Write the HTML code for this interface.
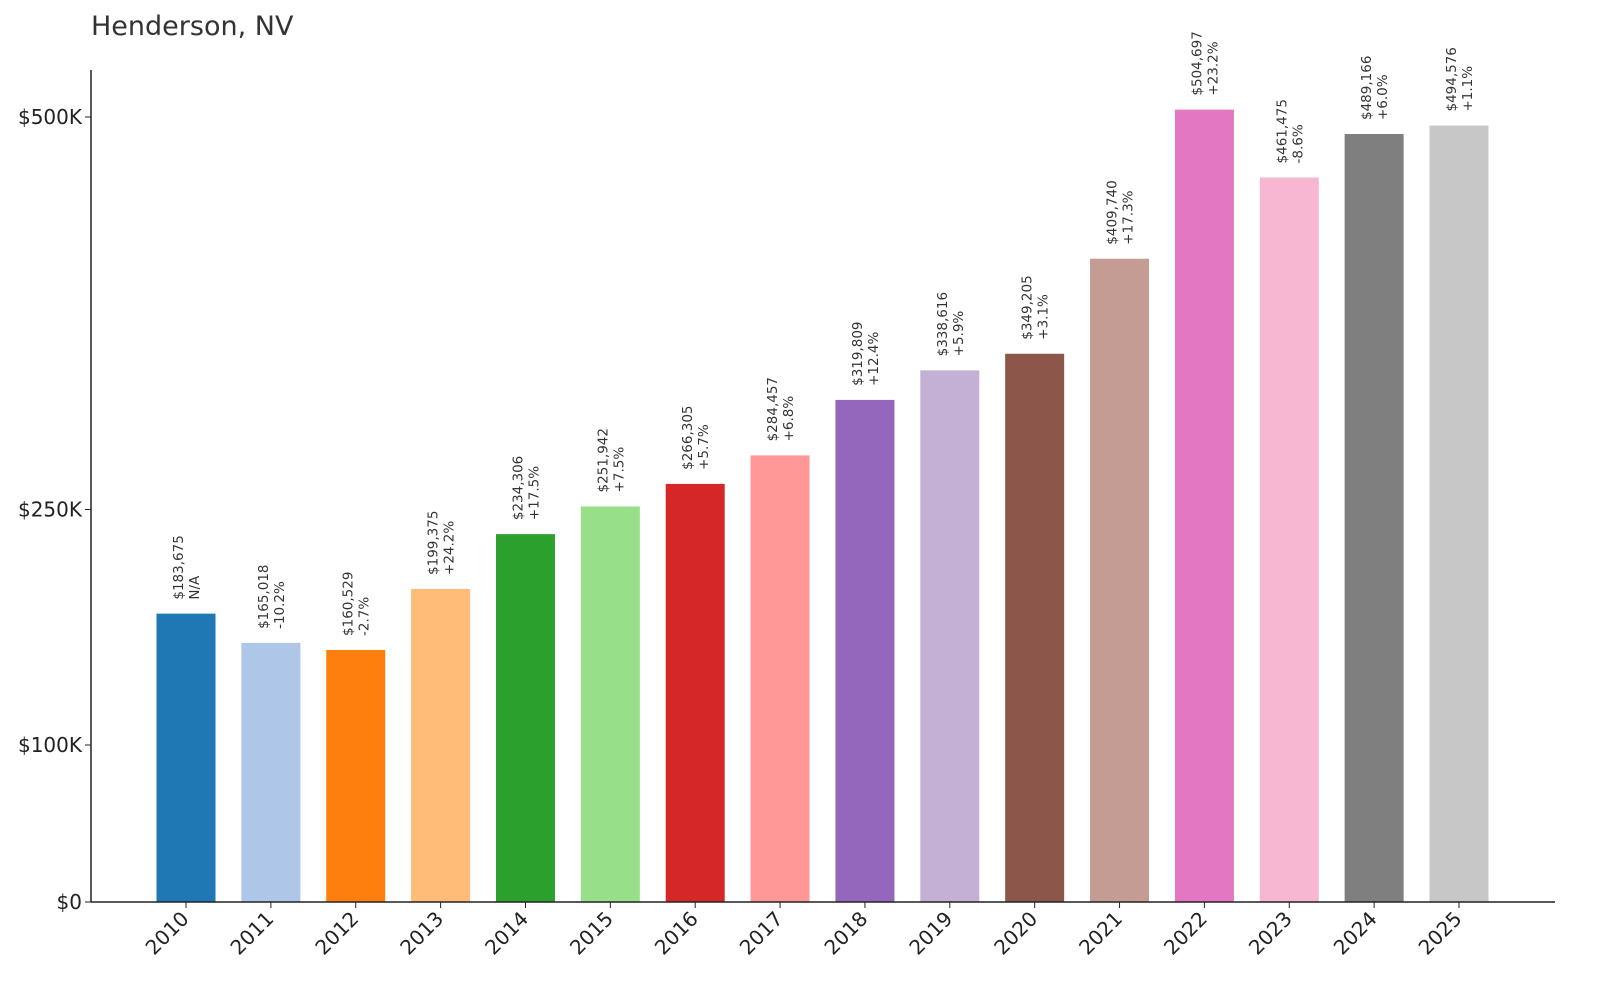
<!DOCTYPE html>
<html><head><meta charset="utf-8"><style>
body{margin:0;background:#fff;}
svg{display:block;font-family:"DejaVu Sans","Liberation Sans",sans-serif;}
</style></head><body>
<svg id="chart" width="1600" height="997" viewBox="0 0 1600 997">
<text x="91" y="35" font-size="27" fill="#333">Henderson, NV</text>
<g id="bars"></g>
<g id="axes"></g>
</svg>
<script>
const years=["2010","2011","2012","2013","2014","2015","2016","2017","2018","2019","2020","2021","2022","2023","2024","2025"];
const values=[183675,165018,160529,199375,234306,251942,266305,284457,319809,338616,349205,409740,504697,461475,489166,494576];
const changes=["N/A","-10.2%","-2.7%","+24.2%","+17.5%","+7.5%","+5.7%","+6.8%","+12.4%","+5.9%","+3.1%","+17.3%","+23.2%","-8.6%","+6.0%","+1.1%"];
const yTicks=[0,100000,250000,500000];
const yTickLabels=["$0","$100K","$250K","$500K"];
const colors=["#1f77b4","#aec7e8","#ff7f0e","#ffbb78","#2ca02c","#98df8a","#d62728","#ff9896","#9467bd","#c5b0d5","#8c564b","#c49c94","#e377c2","#f7b6d2","#7f7f7f","#c7c7c7"];
const NS="http://www.w3.org/2000/svg";
const y0=902,yScale=785/500000;
function y(v){return y0-v*yScale;}
function x(i){return 186+i*(1459-186)/15;}
const bw=59;
const bars=document.getElementById('bars'),axes=document.getElementById('axes');
function mk(t,a,p){const e=document.createElementNS(NS,t);for(const k in a)e.setAttribute(k,a[k]);p.appendChild(e);return e;}
values.forEach((v,i)=>{
  const cx=x(i),top=y(v);
  const r=mk('rect',{x:cx-bw/2,y:top,width:bw,height:y0-top,fill:colors[i]},bars);
  
  
  const t1=mk('text',{transform:`translate(${cx-3},${top-14}) rotate(-90)`,'font-size':13.5,fill:'#333'},bars);
  t1.textContent='$'+v.toLocaleString('en-US');
  
  
  const t2=mk('text',{transform:`translate(${cx+13},${top-14}) rotate(-90)`,'font-size':13.5,fill:'#333'},bars);
  t2.textContent=changes[i];
  
  
  const tk=mk('line',{x1:cx,x2:cx,y1:y0,y2:y0+6,stroke:'#222','stroke-width':1},axes);
  
  
  const xl=mk('text',{transform:`translate(${cx+4},${y0+18}) rotate(-45)`,'font-size':20,fill:'#222','text-anchor':'end'},axes);
  xl.textContent=years[i];
  
  
});
yTicks.forEach((v,i)=>{
  const yy=y(v);
  const tk=mk('line',{x1:85,x2:91,y1:yy,y2:yy,stroke:'#222','stroke-width':1},axes);
  
  
  const tl=mk('text',{x:82,y:yy+7,'font-size':20,fill:'#222','text-anchor':'end'},axes);
  tl.textContent=yTickLabels[i];
  
  
});
const ya=mk('line',{x1:91,x2:91,y1:70,y2:y0,stroke:'#222','stroke-width':1.5},axes);


const xa=mk('line',{x1:91,x2:1555,y1:y0,y2:y0,stroke:'#222','stroke-width':1.5},axes);


</script>
</body></html>
